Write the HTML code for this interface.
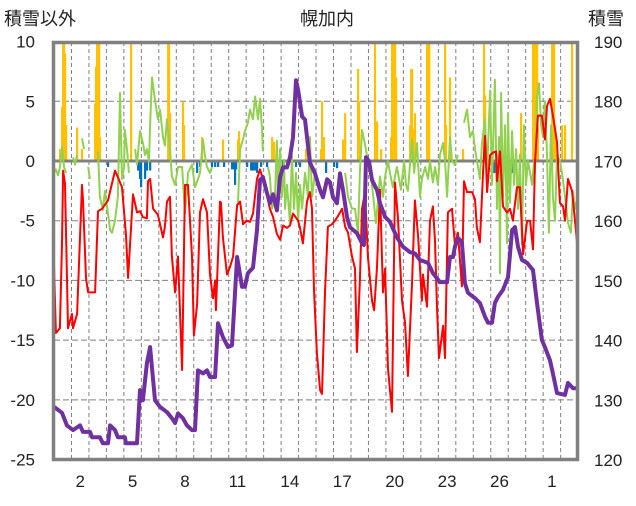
<!DOCTYPE html>
<html><head><meta charset="utf-8"><style>
body{margin:0;background:#fff;}
svg text{font-family:"Liberation Sans","Noto Sans CJK JP",sans-serif;fill:#222;}
</style></head><body>
<svg id="chart" width="636" height="501" xmlns="http://www.w3.org/2000/svg">
<text x="327" y="25" font-size="18" text-anchor="middle">幌加内</text>
<text x="4" y="25" font-size="18">積雪以外</text>
<text x="588" y="25" font-size="18">積雪</text>
<g id="grid"></g>
<g id="axes"></g>
<g id="series"></g>
<rect x="53.5" y="42.5" width="524" height="417" fill="none" stroke="#808080" stroke-width="3.5"/>
</svg>
<script>
const leftTicks=[10,5,0,-5,-10,-15,-20,-25];
const rightTicks=[190,180,170,160,150,140,130,120];
const xTickLabels=["2","5","8","11","14","17","20","23","26","1"];
const xTickDays=[1,4,7,10,13,16,19,22,25,28];
const redT=[0,.11,.34,.46,.52,.63,.80,1.03,1.09,1.32,1.60,1.66,1.83,1.95,2.06,2.35,2.52,2.75,3.09,3.49,3.61,3.89,4.12,4.24,4.52,4.75,4.92,5.09,5.32,5.38,5.50,5.67,5.95,6.24,6.35,6.47,6.64,6.75,6.93,7.10,7.33,7.50,7.67,7.90,8.01,8.19,8.36,8.53,8.76,8.93,9.10,9.22,9.27,9.39,9.50,9.56,9.67,9.90,10.07,10.25,10.48,10.65,10.82,11.05,11.22,11.39,11.62,11.79,11.96,12.19,12.36,12.54,12.76,12.94,13.11,13.34,13.51,13.68,13.97,14.08,14.25,14.48,14.65,14.77,14.88,15.05,15.23,15.34,15.51,15.68,15.91,16.08,16.26,16.49,16.66,16.83,17.06,17.23,17.34,17.51,17.63,17.80,17.97,18.20,18.32,18.49,18.66,18.83,18.95,19.12,19.35,19.52,19.69,19.92,20.09,20.26,20.49,20.66,20.84,21.06,21.12,21.35,21.52,21.69,21.81,21.92,22.04,22.27,22.38,22.55,22.78,22.95,23.12,23.35,23.47,23.64,23.93,24.10,24.21,24.38,24.56,24.67,24.79,24.96,25.13,25.30,25.36,25.53,25.70,25.93,26.10,26.27,26.50,26.67,26.85,27.08,27.25,27.42,27.53,27.70,27.93,28.10,28.22,28.39,28.56,28.79,28.96,29.14,29.25,29.42,29.65,29.82,29.99];
const redV=[-8.7,-14.4,-14,-6.9,-0.8,-1.9,-14,-12.8,-14,-12.8,-2,-3.3,-9.8,-11,-11,-11,-4.2,-4,-3.3,-0.8,-1.2,-2.2,-6.2,-9.8,-2.8,-4.3,-4.2,-4.7,-4.8,-1.7,-1.5,-4,-4.5,-6.4,-5.5,-3.4,-3,-8,-11,-8,-17.5,-2,-2,-8,-14.6,-12,-4.3,-3.2,-4.3,-9.5,-11.5,-10,-12.5,-8,-3.4,-3.5,-6.4,-9.5,-8.9,-8,-3.7,-3.4,-5.3,-5,-5.1,-4.4,-1.5,-0.7,-1.5,-2.9,-4,-4.7,-6.1,-6.6,-5.4,-5.6,-5.4,-4.4,-5,-5.6,-6.9,-3.4,-2.6,-4,-10.8,-16.1,-19.2,-19.5,-11,-5.5,-5.3,-5,-4.6,-4,-5.5,-6,-8,-9,-16,-10,-4,-2.6,-8,-11.7,-12.5,-8.9,-2.4,-11,-9,-17.4,-21,-1.8,-4.8,-11.7,-13.5,-18,-10.3,-3.3,-6.3,-11.7,-9.5,-12.2,-5,-3.8,-6.7,-12,-16.5,-13.8,-16.5,-4.3,-4,-7,-6,-10.5,-1.7,-2.6,-2.6,-3.2,-5.6,-6.8,-0.9,2.1,-2.6,0.5,0.7,0.8,-1.7,0.8,-3.8,-4.3,-4,-5,-2.2,-2.2,-7.8,-5,-5,-7.4,-0.3,3.8,3.8,1.8,4.6,5.2,3.8,1.6,-3.5,-3.8,-5,-1.5,-2.5,-5,-7.6];
const snowT=[0,.46,.74,1.09,1.49,1.66,2.06,2.18,2.63,2.80,3.09,3.21,3.49,3.66,4.06,4.12,4.75,4.92,5.09,5.32,5.50,5.78,6.07,6.47,6.75,6.93,7.10,7.38,7.61,7.90,8.07,8.24,8.53,8.76,8.93,9.22,9.39,9.67,9.96,10.19,10.48,10.76,10.93,11.10,11.39,11.62,11.79,11.96,12.19,12.36,12.54,12.76,12.94,13.11,13.34,13.51,13.68,13.85,13.97,14.20,14.37,14.65,14.94,15.23,15.40,15.63,15.80,15.97,16.20,16.37,16.54,16.77,16.94,17.34,17.63,17.74,17.86,18.03,18.20,18.49,18.66,18.95,19.23,19.63,19.98,20.38,20.66,20.95,21.41,21.69,22.09,22.50,22.67,22.84,22.95,23.12,23.35,23.52,23.70,24.10,24.38,24.67,24.84,25.07,25.24,25.41,25.70,25.99,26.22,26.39,26.56,26.79,27.08,27.42,27.65,27.93,28.10,28.39,28.56,28.79,29.25,29.42,29.71,30.0];
const snowV=[128.9,127.9,125.8,125,125.8,124.7,124.7,123.8,123.8,122.8,122.8,125.8,125,123.8,123.8,122.8,122.8,131.7,130,136.2,138.9,130,128.9,128,127,126.2,127.8,127,125.8,125,125,135,134.5,135,133.9,133.9,142.9,140.6,138.9,139.2,154,149,149,151.3,152.2,158.5,166.9,167.4,164.7,163,164.5,161.8,167.4,169,169,170.7,174,183.6,182,177.5,177,169.8,168,165.2,164,167,166.5,164,163,168,165.2,160.7,159,158,156.3,156,170.7,170,166.9,165.2,163,160.7,159.9,157.3,155.7,154.8,154.6,153.5,153,151.3,149.8,149.8,154,154,155.7,157.2,156.5,149.6,148,147.1,146.3,144,143,143,146.3,147.3,148.5,150.6,158.5,159,155.7,153.5,153,151.8,146.3,140.1,138.9,136.7,134.5,131.2,130.9,132.9,132,132];
const greenT=[0,.11,.23,.34,.46,.57,.69,null,1.09,1.20,1.32,null,1.60,1.72,null,1.95,2.06,null,2.52,2.63,2.80,2.92,3.03,3.21,3.32,3.49,3.66,3.78,3.89,4.01,4.06,4.18,4.29,null,4.64,4.75,4.92,5.09,5.21,5.32,5.44,5.50,5.61,5.78,5.95,6.07,6.24,6.35,6.47,6.64,6.75,6.93,7.10,7.33,7.50,7.67,7.90,8.07,8.24,8.36,8.53,8.64,8.76,8.93,9.04,null,10.53,10.65,10.82,10.93,11.10,11.22,11.39,11.51,11.68,11.79,11.91,11.96,null,12.25,12.36,12.48,12.65,12.76,12.82,12.94,13.05,13.17,13.22,13.34,13.51,13.62,13.74,13.85,13.97,14.08,14.20,14.37,14.54,14.65,14.77,14.94,null,16.66,16.83,17.06,17.23,17.40,17.51,17.63,17.80,17.97,18.20,18.43,18.66,18.83,18.95,19.12,19.23,19.40,19.63,19.86,20.04,20.15,20.26,20.49,20.61,20.78,20.95,21.06,21.24,21.41,21.52,21.69,21.81,21.98,22.09,22.27,22.38,22.50,22.67,22.78,22.95,23.12,null,23.47,23.64,23.81,23.98,24.10,24.27,24.38,24.50,24.67,24.79,24.96,25.07,25.24,25.36,25.47,25.53,25.59,25.70,25.82,25.93,25.99,26.10,26.22,26.33,26.45,26.56,26.67,26.79,26.90,27.02,27.13,27.25,27.36,27.48,27.53,27.65,27.76,27.88,27.99,28.10,28.22,28.33,28.45,28.56,28.68,28.79,28.96,29.08,29.25,29.42,29.59,29.71,29.82,30.0];
const greenV=[-1,-0.7,-1.2,-0.5,1.2,-0.5,-1,null,0.3,-0.3,0.5,null,1.9,1,null,-0.5,-1.5,null,0.8,-3,-4.1,-2.5,-3.7,-5.8,-6,-5,-3,5.7,-1.5,-0.5,2.6,1,-1,null,1,-0.3,2.5,1.5,0.5,1,0,3,7,5.1,3.5,4.3,2,1.3,3.5,1,-1.3,-2,-0.5,-0.5,-4.4,-1,-0.3,-2.2,-1.5,-1,1.8,0.5,-0.5,-1,-0.5,null,-3.5,1,1.8,2.5,3.2,4.3,3.5,5.4,3.5,5.2,2.5,0.8,null,-0.5,-1.3,-4,-3,1.7,-3,1,-3,0,-4,-2,-5.2,0.5,-4,-1,-5,-2,-4,-1,-3,2,-3,-1,null,-1,-3,-4,-4,-6,-1,2.6,1.4,0,-2,-5.2,-1.3,-3,-1.3,0,-1,-2.2,-0.5,-2.4,0,-2,-2.5,1.8,-1,1.5,-3,-1.5,-0.5,-1.5,0,-1.8,-0.5,-2,0.5,1.5,0,-3,2,0,-0.3,0.5,null,3.2,4.3,2,2.5,1,-0.5,-1.5,1.5,3.5,-1,5.9,-2,6.8,-4,2,-9.4,5.7,-3,3,-6.9,4,-3.5,2.5,-2,1,-4,0.5,-7,3,-2,0,-1,-2,0,-1,5.4,6.5,3,2,5,0.5,-6,3,-3,-5,0.5,0,-1,-3,-5.2,-6,-2.5,-4,-3];
const snowfallT=[.34,.46,.52,.57,.63,.69,1.32,1.60,2.35,2.40,2.46,2.52,2.58,2.63,4.41,6.53,6.58,6.64,7.38,7.44,8.47,9.67,10.53,10.59,12.48,12.59,13.57,14.42,15.28,15.34,15.45,16.54,16.66,17.40,17.46,18.37,18.49,18.72,19.29,19.35,19.40,19.46,19.52,19.58,20.38,20.44,20.49,20.55,20.66,21.35,21.41,21.47,22.38,22.44,22.67,23.41,24.61,24.67,25.36,26.73,27.42,27.48,27.53,27.59,27.65,27.70,28.51,28.56,28.62,28.68,29.08,29.25,29.65];
const snowfallV=[1,4.5,12,12,9,3,2.8,1,4.8,7.9,12,12,12,2,12,12,12,4,5,3,2,1.8,1.8,2.5,2,1.6,1,1,1,5,2,1.8,4,7.7,5,12,3.3,1,2,12,12,12,12,7,3,7.7,7.7,2.7,4,12,12,12,12,3,7,1,12,5.5,0.5,4,12,12,12,12,12,3,12,12,12,3,3,3,12];
const meltT=[3.09,4.81,4.92,4.98,5.21,5.32,5.50,8.19,8.36,9.04,9.22,9.39,9.73,10.19,10.30,10.36,10.42,11.05,11.28,11.39,11.51,11.62,11.85,12.19,13.11,13.62,13.85,14.08,15.57,16.03,16.20,22.95,25.13,25.24,26.22,26.33];
const meltV=[-0.5,-0.8,-1.5,-2.2,-1.5,-0.8,-0.8,-1,-0.5,-0.5,-0.5,-0.5,-0.5,-0.7,-0.7,-2,-0.7,-0.5,-0.8,-0.8,-0.8,-1,-0.5,-0.5,-0.5,-1,-0.5,-0.5,-1,-0.5,-0.6,-0.4,-1,-1,-1,-1];

const NS='http://www.w3.org/2000/svg';
const X0=54,DAY=17.47,TOP=42,BOT=460;
const xs=t=>X0+t*DAY;
const yl=v=>161-v*(BOT-TOP)/35;
const yr=v=>TOP+(190-v)*(BOT-TOP)/70;
function mk(tag,attrs,parent){const e=document.createElementNS(NS,tag);for(const k in attrs)e.setAttribute(k,attrs[k]);parent.appendChild(e);return e;}
const grid=document.getElementById('grid'),axes=document.getElementById('axes'),ser=document.getElementById('series');
for(let d=1;d<30;d++){const l=mk('line',{x1:xs(d),x2:xs(d),y1:TOP,y2:BOT,stroke:'#808080','stroke-width':1,'stroke-dasharray':'4,3'},grid);

}
leftTicks.forEach((v,i)=>{
 if(v!==0&&v!==10&&v!==-25){const l=mk('line',{x1:54,x2:578,y1:yl(v),y2:yl(v),stroke:'#808080','stroke-width':1,'stroke-dasharray':'6,3'},grid);
 
 }
 const t=mk('text',{x:35,y:yl(v)+6,'font-size':17,'text-anchor':'end'},axes);t.textContent=v;
 
 
 const r=mk('text',{x:594,y:yr(rightTicks[i])+6,'font-size':17},axes);r.textContent=rightTicks[i];
 
 
});
xTickLabels.forEach((s,i)=>{const t=mk('text',{x:xs(xTickDays[i]+0.5),y:487,'font-size':17,'text-anchor':'middle'},axes);t.textContent=s;

});
const clip=mk('clipPath',{id:'pc'},document.getElementById('chart'));mk('rect',{x:54,y:TOP,width:524,height:BOT-TOP},clip);
ser.setAttribute('clip-path','url(#pc)');
snowfallT.forEach((t,i)=>{const y=yl(snowfallV[i]);const r=mk('rect',{x:xs(t)-1,y:y,width:2.2,height:yl(0)-y,fill:'#ffc000'},ser);

});
meltT.forEach((t,i)=>{const r=mk('rect',{x:xs(t)-1,y:yl(0),width:2.2,height:yl(meltV[i])-yl(0),fill:'#0070c0'},ser);

});
const z=mk('line',{x1:54,x2:578,y1:yl(0),y2:yl(0),stroke:'#808080','stroke-width':3},ser);


function path(T,V,f){let d='',pen=false;T.forEach((t,i)=>{if(t===null||V[i]===null){pen=false;return;}d+=(pen?'L':'M')+xs(t).toFixed(1)+','+f(V[i]).toFixed(1);pen=true;});return d;}
const g=mk('path',{d:path(greenT,greenV,yl),fill:'none',stroke:'#92d050','stroke-width':2,'stroke-linejoin':'round'},ser);


const rd=mk('path',{d:path(redT,redV,yl),fill:'none',stroke:'#ff0000','stroke-width':2,'stroke-linejoin':'round'},ser);


const p=mk('path',{d:path(snowT,snowV,yr),fill:'none',stroke:'#7030a0','stroke-width':4,'stroke-linejoin':'round'},ser);


</script>
</body></html>
